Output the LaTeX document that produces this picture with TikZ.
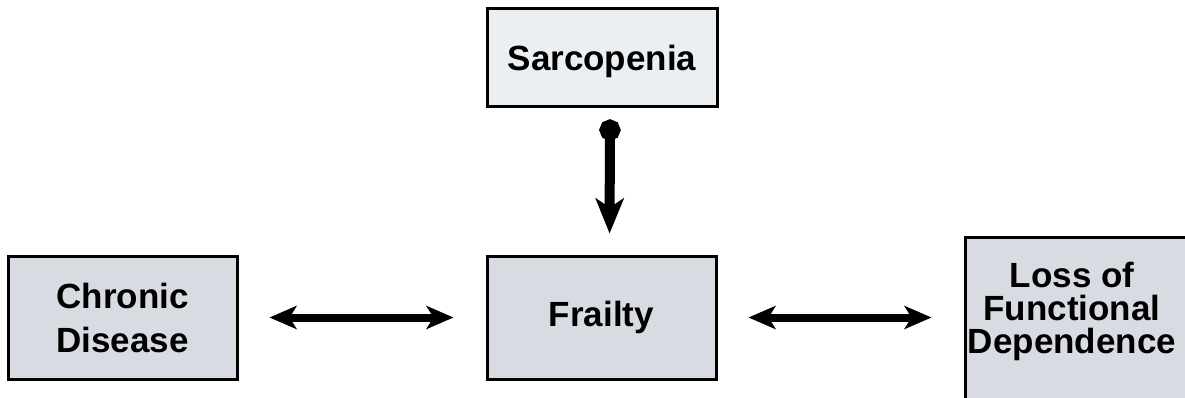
\documentclass[tikz,border=0pt]{standalone}
\usepackage{fontspec}
\setmainfont{Liberation Sans}
\usetikzlibrary{arrows.meta}
\definecolor{lightbox}{HTML}{ECEFF2}
\definecolor{midbox}{HTML}{D8DCE2}
\tikzset{
  box/.style={draw=black, line width=3pt, rectangle, inner sep=0pt, align=center,
    font=\fontsize{35}{44}\selectfont\bfseries, text=black},
  dbl/.style={line width=8pt, {Stealth[length=27pt,width=23pt,inset=7pt]}-{Stealth[length=27pt,width=23pt,inset=7pt]}},
  down/.style={line width=10pt, {Circle[length=21pt]}-{Stealth[length=35pt,width=28pt,inset=9pt]}}
}
\begin{document}
\begin{tikzpicture}[x=1pt,y=-1pt]
\useasboundingbox (0,0) rectangle (1185,398);
\clip (0,0) rectangle (1185,398);
\node[box, fill=lightbox, minimum width=230pt, minimum height=98pt, text depth=0pt] (sarc) at (602,58) {Sarcopenia};
\node[box, fill=midbox, minimum width=229pt, minimum height=123pt] (chronic) at (122.5,317.5) {Chronic\\Disease};
\node[box, fill=midbox, minimum width=229pt, minimum height=123pt] (frailty) at (601.5,317.5) {Frailty};
\node[box, fill=midbox, minimum width=240pt, minimum height=180pt] (loss) at (1085,327) {};
\node[align=center, font=\fontsize{35}{33}\selectfont\bfseries, inner sep=0pt] (losstext) at (1072,311) {Loss of\\Functional\\Dependence};
\draw[dbl, shorten <=31pt, shorten >=32pt] (chronic.east) -- (frailty.west);
\draw[dbl, shorten <=31pt, shorten >=32pt] (frailty.east) -- (frailty.east -| loss.west);
\draw[down, shorten <=11pt, shorten >=21pt] ([xshift=8pt]sarc.south) -- ([xshift=8pt]frailty.north);
\end{tikzpicture}
\end{document}
